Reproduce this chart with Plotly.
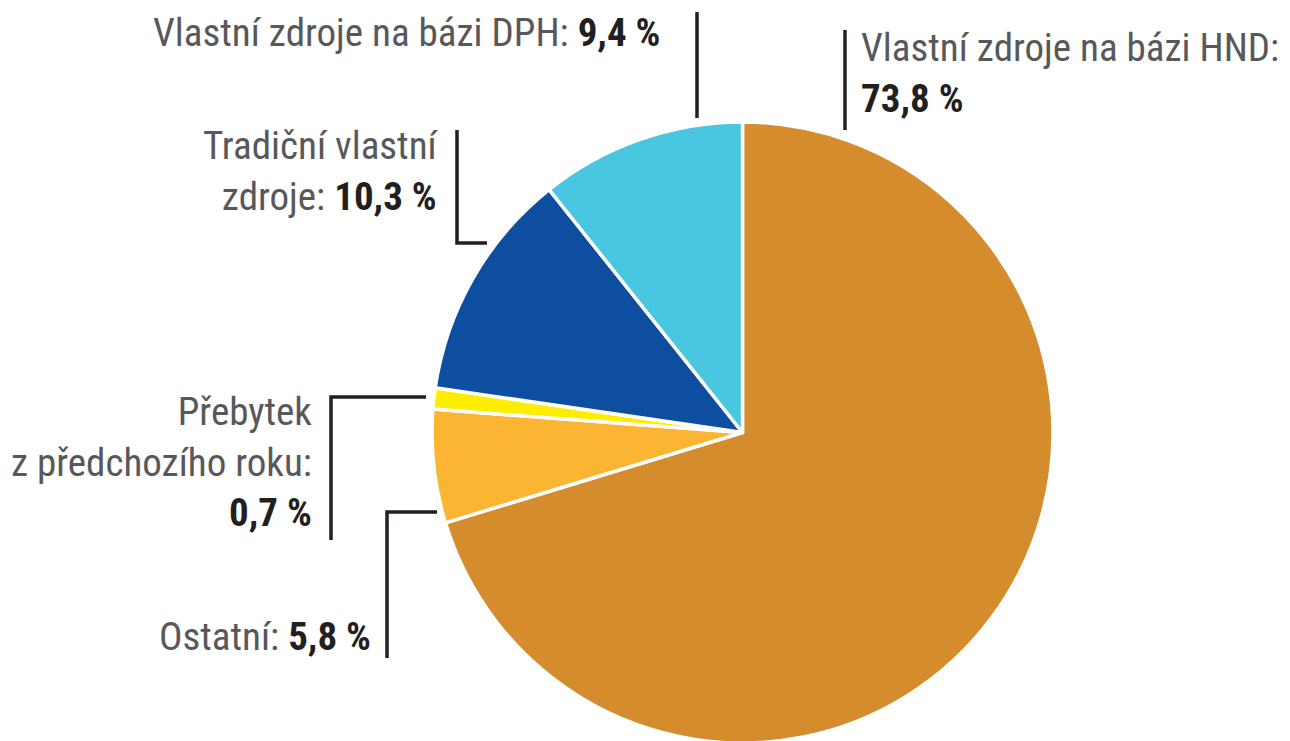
import plotly.graph_objects as go

# Data (slice shares as drawn in the picture, clockwise from 12 o'clock)
categories = ["Vlastní zdroje na bázi HND", "Ostatní", "Přebytek z předchozího roku",
              "Tradiční vlastní zdroje", "Vlastní zdroje na bázi DPH"]
shares = [70.3, 5.9, 1.1, 12.0, 10.7]
printed_pct = ["73,8 %", "5,8 %", "0,7 %", "10,3 %", "9,4 %"]
colors = ["#D48C2C", "#FBB533", "#FFED00", "#0D4EA0", "#49C6E0"]

W, H = 1290, 741
OFF = 8  # default page body margin of the HTML page
FONT = "Roboto Condensed, Liberation Sans Narrow, DejaVu Sans Condensed, sans-serif"
TXT = "#58585A"
DARK = "#231F20"
FS = 39


def fx(x):
    return (x - OFF) / W


def fy(y):
    return 1 - (y - OFF) / H


def val(s):
    return f"<b><span style='color:{DARK}'>{s}</span></b>"


fig = go.Figure(go.Pie(
    labels=categories,
    values=shares,
    sort=False,
    direction="clockwise",
    rotation=0,
    marker=dict(colors=colors, line=dict(color="white", width=3.5)),
    textinfo="none",
    hoverinfo="label+percent",
    domain=dict(x=[fx(742.5 - 310.5), fx(742.5 + 310.5)], y=[fy(743), fy(122)]),
    showlegend=False,
))

annotations = [
    dict(x=fx(662), y=fy(33), xanchor="right", yanchor="middle", align="right",
         text=f"Vlastní zdroje na bázi DPH: {val(printed_pct[4])}"),
    dict(x=fx(859), y=fy(73), xanchor="left", yanchor="middle", align="left",
         text=f"Vlastní zdroje na bázi HND:<br>{val(printed_pct[0])}"),
    dict(x=fx(441), y=fy(172), xanchor="right", yanchor="middle", align="right",
         text=f"Tradiční vlastní<br>zdroje: {val(printed_pct[3])}"),
    dict(x=fx(314), y=fy(462), xanchor="right", yanchor="middle", align="right",
         text=f"Přebytek<br>z předchozího roku:<br>{val(printed_pct[2])}"),
    dict(x=fx(373), y=fy(637), xanchor="right", yanchor="middle", align="right",
         text=f"{categories[1]}: {val(printed_pct[1])}"),
]
for a in annotations:
    a.update(xref="paper", yref="paper", showarrow=False,
             font=dict(family=FONT, size=FS, color=TXT))

leaders = [
    [(697, 12), (697, 118)],
    [(845, 30), (845, 130)],
    [(457, 130), (457, 243), (487, 243)],
    [(426, 397), (331, 397), (331, 540)],
    [(437, 512), (387, 512), (387, 658)],
]
shapes = []
for pts in leaders:
    path = "M " + " L ".join(f"{fx(x)},{fy(y)}" for x, y in pts)
    shapes.append(dict(type="path", path=path, xref="paper", yref="paper",
                       line=dict(color=DARK, width=3.5)))

fig.update_layout(
    width=W, height=H,
    margin=dict(l=0, r=0, t=0, b=0),
    paper_bgcolor="white", plot_bgcolor="white",
    annotations=annotations,
    shapes=shapes,
)

fig.write_html("out.html")
